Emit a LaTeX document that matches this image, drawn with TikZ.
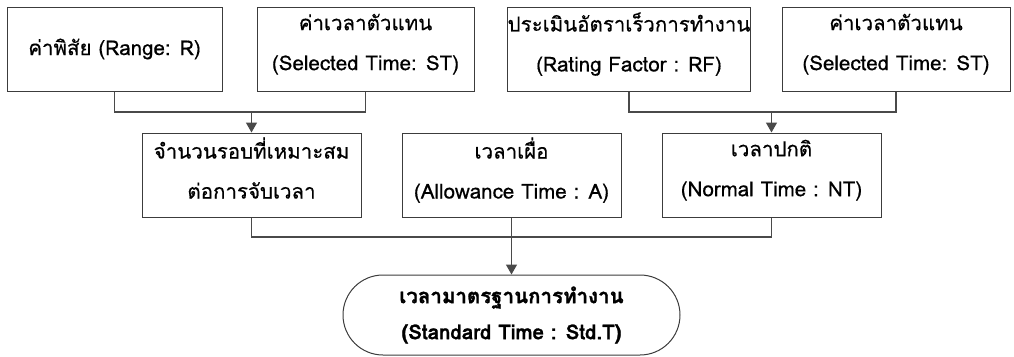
\documentclass[tikz,border=0pt]{standalone}
\usepackage{fontspec}
\newfontfamily\thaifont[Script=Thai,FakeBold=0.5]{Loma}
\newfontfamily\thaibold[Script=Thai,FakeBold=1.2]{Loma Bold}
\usetikzlibrary{shapes.misc,arrows.meta}
\definecolor{linegray}{HTML}{4A4A4A}
\definecolor{boxgray}{HTML}{3C3C3C}
\newcommand\lowstrut{\rule[-14pt]{0pt}{14pt}}
\begin{document}
\begin{tikzpicture}[x=1pt,y=-1pt,
  txt/.style={font=\thaifont\fontsize{20.5}{40}\selectfont, align=center},
  box/.style={txt, draw=boxgray, line width=1pt, inner sep=0pt, minimum height=84pt},
  conn/.style={draw=linegray, line width=1.5pt},
  arr/.style={conn, -{Triangle[length=10pt,width=11pt]}}]
\useasboundingbox (0,0) rectangle (1014,356);
\node[box, minimum width=215pt] (b1) at (114.5,49) {ค่าพิสัย (Range: R)};
\node[box, minimum width=217pt] (b2) at (365.5,49) {ค่าเวลาตัวแทน\\(Selected Time: ST)\lowstrut};
\node[box, minimum width=235pt] (b3) at (629,49) {ประเมินอัตราเร็วการทำงาน\\(Rating Factor : RF)\lowstrut};
\node[box, minimum width=228pt] (b4) at (896,49) {ค่าเวลาตัวแทน\\(Selected Time: ST)\lowstrut};
\node[box, minimum width=219pt] (m1) at (251.5,175) {จำนวนรอบที่เหมาะสม\\ต่อการจับเวลา\lowstrut};
\node[box, minimum width=219pt] (m2) at (511.5,175) {เวลาเผื่อ\\(Allowance Time : A)\lowstrut};
\node[box, minimum width=219pt] (m3) at (771.5,175) {เวลาปกติ\\(Normal Time : NT)\lowstrut};
\node[txt, draw=boxgray, line width=1pt, rounded rectangle, inner sep=0pt,
  minimum width=337pt, minimum height=80pt, font=\thaibold\fontsize{20.5}{36}\selectfont] (s) at (511.5,315)
  {เวลามาตรฐานการทำงาน\\(Standard Time : Std.T)};
\coordinate (j1) at (251.5,112);
\coordinate (j2) at (771.5,112);
\coordinate (j3) at (511.5,237);
\draw[conn] (b1.south) -- (b1.south |- j1) -- (b2.south |- j1) -- (b2.south);
\draw[arr] (j1) -- (m1.north);
\draw[conn] (b3.south) -- (b3.south |- j2) -- (b4.south |- j2) -- (b4.south);
\draw[arr] (j2) -- (m3.north);
\draw[conn] (m1.south) -- (m1.south |- j3) -- (m3.south |- j3) -- (m3.south);
\draw[conn] (m2.south) -- (j3);
\draw[arr] (j3) -- (s.north);
\end{tikzpicture}
\end{document}
